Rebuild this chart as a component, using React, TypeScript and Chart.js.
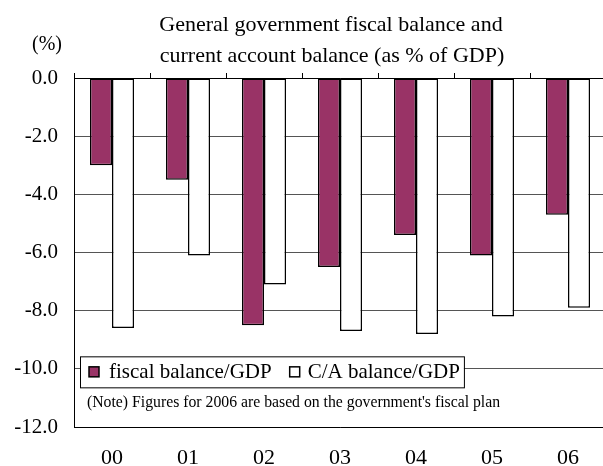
import React, { useEffect, useRef } from "react";
import { Chart, registerables } from "chart.js";

Chart.register(...registerables);

const categories = ["00", "01", "02", "03", "04", "05", "06"];
const fiscalBalance = [-3.0, -3.5, -8.5, -6.5, -5.4, -6.1, -4.7];
const caBalance = [-8.6, -6.1, -7.1, -8.7, -8.8, -8.2, -7.9];
const seriesNames = ["fiscal balance/GDP", "C/A balance/GDP"];
const seriesColors = ["#993366", "#ffffff"];
const yMin = -12;
const yMax = 0;
const yStep = 2;
const titleLines = [
  "General government fiscal balance and",
  "current account balance (as % of GDP)",
];
const unitLabel = "(%)";
const noteText = "(Note) Figures for 2006 are based on the government's fiscal plan";
const legendAnchorValue = -10;

const FONT = "'Liberation Serif', 'Times New Roman', serif";

export default function App() {
  const canvasRef = useRef<HTMLCanvasElement | null>(null);

  useEffect(() => {
    const canvas = canvasRef.current;
    if (!canvas) return;

    const overlay = {
      id: "overlay",
      afterDraw(chart: any) {
        const ctx = chart.ctx as CanvasRenderingContext2D;
        const area = chart.chartArea;
        const yScale = chart.scales.y;
        ctx.save();
        ctx.fillStyle = "#000";
        ctx.textAlign = "center";
        ctx.textBaseline = "middle";

        // title
        ctx.font = `22px ${FONT}`;
        ctx.fillText(titleLines[0], 331, 25);
        ctx.fillText(titleLines[1], 332, 56);

        // unit label
        ctx.font = `20px ${FONT}`;
        ctx.fillText(unitLabel, 47, 45);

        // legend box
        const cy = yScale.getPixelForValue(legendAnchorValue) + 3;
        const boxLeft = area.left + 6;
        const boxH = 31;
        const boxTop = cy - boxH / 2;
        ctx.font = `21px ${FONT}`;
        const w1 = ctx.measureText(seriesNames[0]).width;
        const w2 = ctx.measureText(seriesNames[1]).width;
        const m1 = boxLeft + 9;
        const t1 = m1 + 20;
        const m2 = t1 + w1 + 18;
        const t2 = m2 + 18;
        const boxW = t2 + w2 + 4 - boxLeft;
        ctx.fillStyle = "#fff";
        ctx.fillRect(boxLeft, boxTop, boxW, boxH);
        ctx.strokeStyle = "#000";
        ctx.lineWidth = 1;
        ctx.strokeRect(boxLeft + 0.5, boxTop + 0.5, boxW, boxH);
        const ds = chart.data.datasets;
        [m1, m2].forEach((mx, i) => {
          ctx.fillStyle = ds[i].backgroundColor;
          ctx.fillRect(mx, cy - 5, 10, 10);
          ctx.lineWidth = 1.5;
          ctx.strokeStyle = "#000";
          ctx.strokeRect(mx, cy - 5, 10, 10);
        });
        ctx.fillStyle = "#000";
        ctx.textAlign = "left";
        ctx.fillText(ds[0].label, t1, cy + 1);
        ctx.fillText(ds[1].label, t2, cy + 1);

        // note
        ctx.font = `15.75px ${FONT}`;
        ctx.fillText(noteText, area.left + 13, boxTop + boxH + 16);
        ctx.restore();
      },
    };

    const chart = new Chart(canvas, {
      type: "bar",
      data: {
        labels: categories,
        datasets: [
          {
            label: seriesNames[0],
            data: fiscalBalance,
            backgroundColor: seriesColors[0],
            borderColor: "#000",
            borderWidth: 1.5,
            borderSkipped: false,
            categoryPercentage: 0.58,
            barPercentage: 1,
          },
          {
            label: seriesNames[1],
            data: caBalance,
            backgroundColor: seriesColors[1],
            borderColor: "#000",
            borderWidth: 1.5,
            borderSkipped: false,
            categoryPercentage: 0.58,
            barPercentage: 1,
          },
        ],
      },
      options: {
        responsive: false,
        animation: false,
        devicePixelRatio: 1,
        layout: { padding: { left: 0, right: 6, top: 73, bottom: 0 } },
        plugins: {
          legend: { display: false },
          tooltip: { enabled: false },
          title: { display: false },
        },
        scales: {
          x: {
            position: "bottom",
            grid: { display: false, drawTicks: false },
            border: { display: true, color: "#000", width: 1 },
            afterFit(scale: any) {
              scale.height = 39;
            },
            ticks: {
              color: "#000",
              font: { family: FONT, size: 22, lineHeight: 1 },
              padding: 20,
              autoSkip: false,
              maxRotation: 0,
            },
          },
          x2: {
            type: "category",
            position: "top",
            labels: categories,
            grid: {
              display: true,
              offset: true,
              drawOnChartArea: false,
              drawTicks: true,
              tickLength: 5,
              color: "#000",
              lineWidth: 1,
            },
            border: { display: true, color: "#000", width: 1 },
            ticks: { display: false },
            afterFit(scale: any) {
              scale.height = 5;
            },
          },
          y: {
            min: yMin,
            max: yMax,
            afterFit(scale: any) {
              scale.width = 74;
              scale.paddingTop = 0;
              scale.paddingBottom = 0;
            },
            grid: { color: "#555", lineWidth: 1, drawTicks: false },
            border: { display: true, color: "#000", width: 1 },
            ticks: {
              stepSize: yStep,
              color: "#000",
              padding: 16,
              font: { family: FONT, size: 21 },
              callback: (v: any) => Number(v).toFixed(1),
            },
          },
        },
      },
      plugins: [overlay],
    } as any);

    return () => chart.destroy();
  }, []);

  return (
    <div
      style={{
        position: "absolute",
        left: 0,
        top: 0,
        width: 603,
        height: 466,
        overflow: "hidden",
        background: "#fff",
      }}
    >
      <canvas ref={canvasRef} width={612} height={466} style={{ display: "block" }} />
    </div>
  );
}
